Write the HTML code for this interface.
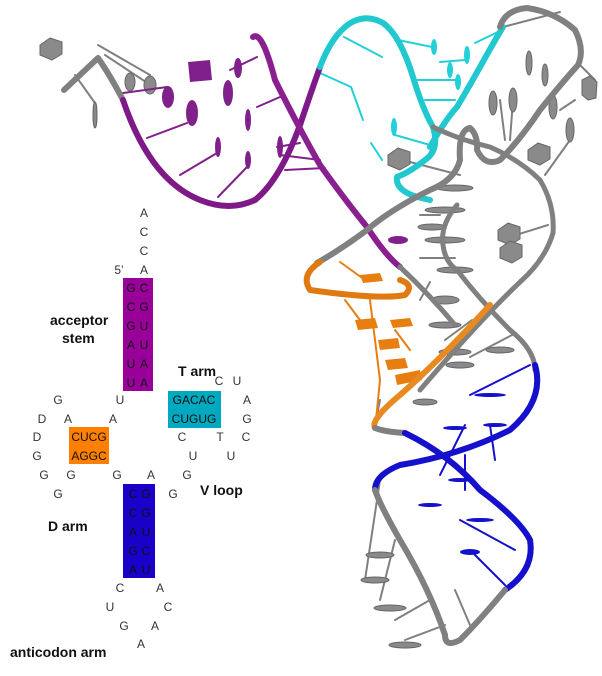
<!DOCTYPE html>
<html><head><meta charset="utf-8"><style>
html,body{margin:0;padding:0;background:#fff}
svg{display:block}
.t{font-family:"Liberation Sans",sans-serif;font-size:12px;fill:#333;text-anchor:middle}
.b{font-family:"Liberation Sans",sans-serif;font-size:14px;font-weight:bold;fill:#111}
.k{font-family:"Liberation Sans",sans-serif;font-size:12px;fill:#111;text-anchor:middle}
</style></head><body>
<svg width="602" height="676" viewBox="0 0 602 676" xmlns="http://www.w3.org/2000/svg">
<g fill="none" stroke-linecap="round" stroke-linejoin="round">
<!-- gray sticks -->
<g stroke="#808080" stroke-width="2">
<line x1="98" y1="45" x2="150" y2="75"/><line x1="105" y1="55" x2="155" y2="88"/>
<line x1="75" y1="75" x2="95" y2="103"/>
<line x1="503" y1="27" x2="560" y2="12"/>
<line x1="580" y1="65" x2="595" y2="80"/><line x1="560" y1="110" x2="575" y2="100"/>
<line x1="545" y1="175" x2="570" y2="140"/><line x1="500" y1="100" x2="505" y2="140"/>
<line x1="513" y1="100" x2="510" y2="140"/>
<line x1="410" y1="162" x2="460" y2="175"/><line x1="500" y1="240" x2="548" y2="225"/>
<line x1="440" y1="215" x2="420" y2="215"/><line x1="455" y1="258" x2="420" y2="258"/>
<line x1="430" y1="282" x2="420" y2="300"/><line x1="512" y1="335" x2="470" y2="357"/>
<line x1="472" y1="320" x2="445" y2="340"/>
<line x1="380" y1="480" x2="365" y2="580"/><line x1="395" y1="540" x2="380" y2="600"/>
<line x1="430" y1="600" x2="395" y2="620"/><line x1="445" y1="625" x2="405" y2="640"/>
<line x1="455" y1="590" x2="470" y2="625"/><line x1="380" y1="400" x2="375" y2="425"/>
</g>
<g fill="#8a8a8a" stroke="#666" stroke-width="1">
<polygon points="40,45 50,38 62,42 62,54 52,60 40,55"/>
<polygon points="388,155 398,148 410,152 410,164 400,170 388,165"/>
<polygon points="528,150 538,143 550,147 550,159 540,165 528,160"/>
<polygon points="498,230 508,223 520,227 520,239 510,245 498,240"/>
<polygon points="500,248 510,241 522,245 522,257 512,263 500,258"/>
<polygon points="582,80 590,76 597,82 596,98 588,100 582,95"/>
<ellipse cx="130" cy="82" rx="5" ry="9"/><ellipse cx="150" cy="85" rx="6" ry="9"/>
<ellipse cx="95" cy="115" rx="2" ry="13"/>
<ellipse cx="493" cy="103" rx="4" ry="12"/><ellipse cx="513" cy="100" rx="4" ry="12"/>
<ellipse cx="529" cy="63" rx="3" ry="12"/><ellipse cx="545" cy="75" rx="3" ry="11"/>
<ellipse cx="553" cy="107" rx="4" ry="12"/><ellipse cx="570" cy="130" rx="4" ry="12"/>
<ellipse cx="455" cy="188" rx="18" ry="3"/><ellipse cx="445" cy="210" rx="20" ry="3"/>
<ellipse cx="445" cy="240" rx="20" ry="3"/><ellipse cx="432" cy="227" rx="14" ry="3"/>
<ellipse cx="445" cy="300" rx="14" ry="4"/><ellipse cx="445" cy="325" rx="16" ry="3"/>
<ellipse cx="460" cy="365" rx="14" ry="3"/><ellipse cx="425" cy="402" rx="12" ry="3"/>
<ellipse cx="455" cy="270" rx="18" ry="3"/><ellipse cx="455" cy="352" rx="16" ry="3"/>
<ellipse cx="380" cy="555" rx="14" ry="3"/><ellipse cx="375" cy="580" rx="14" ry="3"/>
<ellipse cx="390" cy="608" rx="16" ry="3"/><ellipse cx="405" cy="645" rx="16" ry="3"/>
<ellipse cx="500" cy="350" rx="14" ry="3"/>
</g>
<!-- purple base sticks -->
<g stroke="#80208a" stroke-width="2">
<line x1="123" y1="93" x2="167" y2="87"/><line x1="147" y1="138" x2="187" y2="123"/>
<line x1="180" y1="175" x2="217" y2="153"/><line x1="218" y1="197" x2="247" y2="167"/>
<line x1="257" y1="107" x2="280" y2="97"/><line x1="230" y1="70" x2="257" y2="57"/>
<line x1="277" y1="147" x2="300" y2="143"/><line x1="280" y1="155" x2="320" y2="160"/>
<line x1="285" y1="170" x2="325" y2="168"/>
</g>
<g fill="#80208a">
<polygon points="188,62 210,60 212,80 190,82"/>
<ellipse cx="168" cy="97" rx="6" ry="11"/><ellipse cx="192" cy="113" rx="6" ry="13"/>
<ellipse cx="228" cy="93" rx="5" ry="13"/><ellipse cx="238" cy="68" rx="4" ry="10"/>
<ellipse cx="218" cy="147" rx="3" ry="10"/><ellipse cx="248" cy="120" rx="3" ry="11"/>
<ellipse cx="248" cy="160" rx="3" ry="9"/><ellipse cx="280" cy="147" rx="3" ry="11"/>
<ellipse cx="398" cy="240" rx="10" ry="4"/>
</g>
<!-- cyan sticks -->
<g stroke="#22d0d8" stroke-width="2">
<line x1="344" y1="37" x2="382" y2="57"/><line x1="320" y1="73" x2="351" y2="87"/>
<line x1="351" y1="87" x2="363" y2="120"/><line x1="398" y1="40" x2="432" y2="47"/>
<line x1="417" y1="80" x2="455" y2="80"/><line x1="425" y1="100" x2="455" y2="100"/>
<line x1="475" y1="43" x2="502" y2="30"/><line x1="371" y1="143" x2="382" y2="160"/>
<line x1="395" y1="135" x2="430" y2="145"/><line x1="440" y1="62" x2="465" y2="60"/>
</g>
<g fill="#22d0d8"><ellipse cx="434" cy="47" rx="3" ry="8"/><ellipse cx="467" cy="55" rx="3" ry="9"/>
<ellipse cx="450" cy="70" rx="3" ry="8"/><ellipse cx="458" cy="82" rx="3" ry="8"/>
<ellipse cx="394" cy="127" rx="3" ry="9"/></g>
<!-- orange bases -->
<g stroke="#e87e10" stroke-width="2">
<line x1="340" y1="262" x2="365" y2="280"/><line x1="345" y1="300" x2="360" y2="320"/>
<line x1="370" y1="300" x2="380" y2="380"/><line x1="395" y1="330" x2="410" y2="350"/>
<line x1="380" y1="380" x2="375" y2="430"/>
</g>
<g fill="#e87e10">
<polygon points="360,275 380,273 383,281 363,283"/><polygon points="355,320 375,318 378,328 358,330"/>
<polygon points="390,320 410,318 413,326 393,328"/><polygon points="378,340 398,338 400,348 380,350"/>
<polygon points="385,360 405,358 408,368 388,370"/><polygon points="395,375 420,370 422,380 397,385"/>
</g>
<!-- blue bases -->
<g stroke="#1510cc" stroke-width="2">
<line x1="470" y1="395" x2="530" y2="365"/><line x1="465" y1="425" x2="440" y2="475"/>
<line x1="490" y1="425" x2="495" y2="460"/><line x1="465" y1="455" x2="465" y2="490"/>
<line x1="460" y1="520" x2="515" y2="550"/><line x1="475" y1="555" x2="505" y2="585"/>
</g>
<g fill="#1510cc">
<ellipse cx="490" cy="395" rx="16" ry="2"/><ellipse cx="455" cy="428" rx="12" ry="2"/>
<ellipse cx="495" cy="425" rx="12" ry="2"/><ellipse cx="460" cy="480" rx="12" ry="2"/>
<ellipse cx="430" cy="505" rx="12" ry="2"/><ellipse cx="480" cy="520" rx="14" ry="2"/>
<ellipse cx="470" cy="552" rx="10" ry="3"/>
</g>
<!-- backbones -->
<path d="M64,90 L98,58 Q110,75 123,100" stroke="#808080" stroke-width="6"/>
<path d="M123,100 Q150,180 200,200 Q230,212 255,200 Q280,180 300,125 Q310,95 320,67" stroke="#7e1a88" stroke-width="6"/>
<path d="M253,37 Q262,30 275,80 Q300,130 320,165 Q345,200 367,227 Q385,255 400,267" stroke="#8a2090" stroke-width="6"/>
<path d="M320,67 Q330,40 345,27 Q363,12 383,23 Q400,35 413,77 Q423,110 433,127 Q440,150 425,160 Q410,172 397,177 Q395,190 417,197 L430,200" stroke="#22c8cf" stroke-width="6"/>
<path d="M430,147 Q445,120 457,107 Q470,85 480,67 Q495,40 503,27" stroke="#22c8cf" stroke-width="6"/>
<path d="M500,27 Q505,10 527,8 Q555,12 575,30 Q585,50 578,65 Q560,85 540,110 Q520,140 500,160 Q485,167 477,150 Q478,135 470,128 Q458,130 460,160 Q455,180 430,190 Q390,210 367,230 Q340,250 317,263" stroke="#808080" stroke-width="6"/>
<path d="M433,127 Q460,140 490,147 Q520,160 540,180 Q555,205 553,233 Q545,260 520,282 Q480,320 420,390" stroke="#808080" stroke-width="5"/>
<path d="M457,205 Q440,225 443,245 Q445,262 457,270 Q480,300 510,330 Q535,350 535,370" stroke="#808080" stroke-width="5"/>
<path d="M400,267 Q430,295 455,325" stroke="#808080" stroke-width="5"/>
<path d="M320,262 Q300,275 310,290 Q380,300 405,295 Q415,285 400,280" stroke="#e07a10" stroke-width="6"/>
<path d="M490,305 Q440,360 400,395 Q370,420 375,428" stroke="#e88a20" stroke-width="6"/>
<path d="M375,428 Q385,432 405,433" stroke="#808080" stroke-width="6"/>
<path d="M405,433 Q450,455 480,490 Q520,520 530,540 Q535,570 505,590" stroke="#1510cc" stroke-width="6"/>
<path d="M535,365 Q545,400 510,430 Q460,455 400,465 Q375,475 375,490" stroke="#1510cc" stroke-width="6"/>
<path d="M505,590 Q480,620 460,640 Q445,648 445,635 Q430,590 400,540 Q380,505 375,490" stroke="#808080" stroke-width="6"/>
</g>
<!-- 2D diagram -->
<rect x="123" y="278" width="30" height="113" fill="#990099"/>
<rect x="168" y="391" width="53" height="37" fill="#00a8c0"/>
<rect x="69" y="427" width="40" height="37" fill="#ff7f00"/>
<rect x="123" y="484" width="32" height="94" fill="#1a00c8"/>
<g class="t">
<text x="144" y="217">A</text><text x="144" y="236">C</text><text x="144" y="255">C</text><text x="144" y="274">A</text>
<text x="119" y="274">5’</text>
<text x="219" y="385">C</text><text x="237" y="385">U</text>
<text x="247" y="404">A</text><text x="247" y="423">G</text>
<text x="58" y="404">G</text><text x="120" y="404">U</text>
<text x="42" y="423">D</text><text x="68" y="423">A</text><text x="113" y="423">A</text>
<text x="37" y="441">D</text><text x="37" y="460">G</text>
<text x="182" y="441">C</text><text x="220" y="441">T</text><text x="246" y="441">C</text>
<text x="193" y="460">U</text><text x="231" y="460">U</text>
<text x="44" y="479">G</text><text x="71" y="479">G</text><text x="117" y="479">G</text><text x="151" y="479">A</text><text x="187" y="479">G</text>
<text x="58" y="498">G</text><text x="173" y="498">G</text>
<text x="120" y="592">C</text><text x="160" y="592">A</text>
<text x="110" y="611">U</text><text x="168" y="611">C</text>
<text x="124" y="630">G</text><text x="155" y="630">A</text>
<text x="141" y="648">A</text>
</g>
<g class="k">
<text x="131" y="292">G</text><text x="144" y="292">C</text>
<text x="131" y="311">C</text><text x="144" y="311">G</text>
<text x="131" y="330">G</text><text x="144" y="330">U</text>
<text x="131" y="349">A</text><text x="144" y="349">U</text>
<text x="131" y="368">U</text><text x="144" y="368">A</text>
<text x="131" y="387">U</text><text x="144" y="387">A</text>
<text x="194" y="404">GACAC</text><text x="194" y="423">CUGUG</text>
<text x="89" y="441">CUCG</text><text x="89" y="460">AGGC</text>
<text x="133" y="498">C</text><text x="146" y="498">G</text>
<text x="133" y="517">C</text><text x="146" y="517">G</text>
<text x="133" y="536">A</text><text x="146" y="536">U</text>
<text x="133" y="555">G</text><text x="146" y="555">C</text>
<text x="133" y="574">A</text><text x="146" y="574">U</text>
</g>
<text class="b" x="50" y="325">acceptor</text>
<text class="b" x="62" y="343">stem</text>
<text class="b" x="178" y="376">T arm</text>
<text class="b" x="200" y="495">V loop</text>
<text class="b" x="48" y="531">D arm</text>
<text class="b" x="10" y="657">anticodon arm</text>
</svg>
</body></html>
